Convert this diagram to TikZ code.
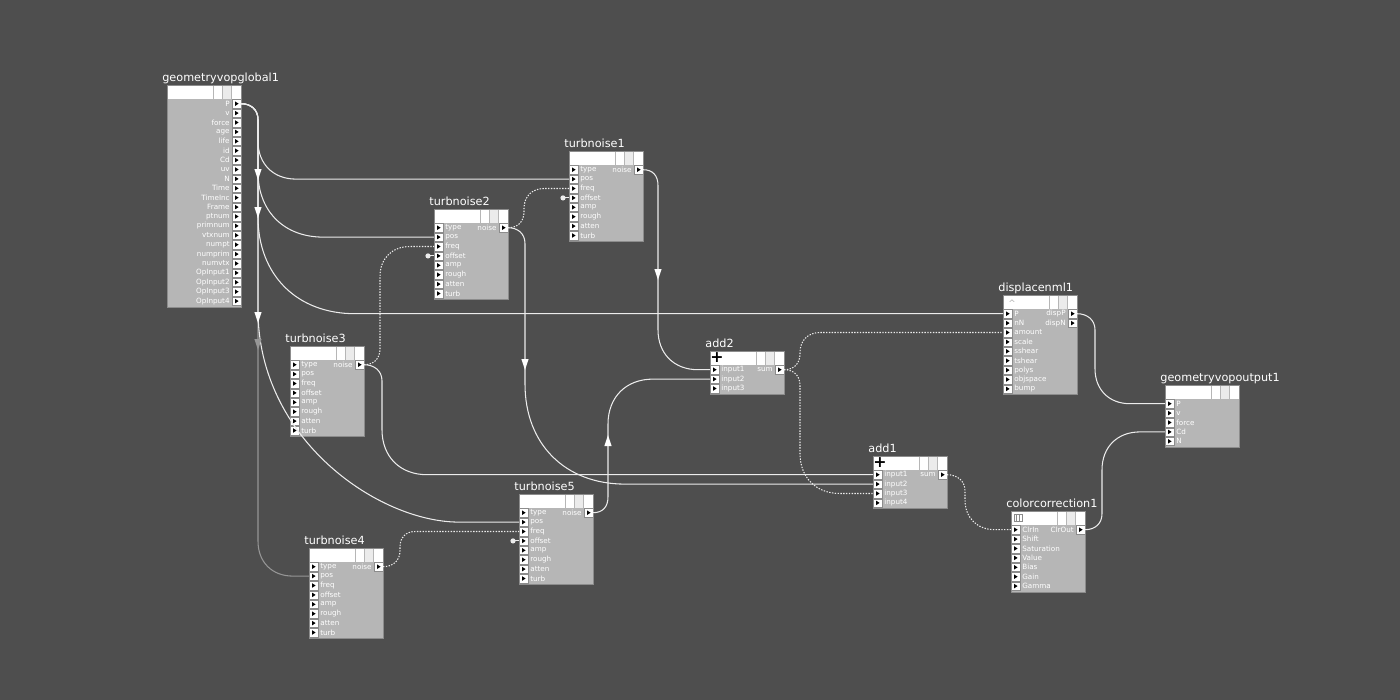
\documentclass[tikz,border=0pt]{standalone}
\usepackage{fontspec}
\setmainfont{DejaVu Sans}
\usetikzlibrary{calc}

\definecolor{vbg}{RGB}{78,78,78}
\definecolor{vbody}{RGB}{182,182,182}
\definecolor{vedge}{RGB}{140,140,140}
\definecolor{vwire}{RGB}{236,236,236}
\definecolor{vgray}{RGB}{150,150,150}

\tikzset{
  vtitle/.style={text=white, inner sep=0pt, anchor=base west, font=\fontsize{6.4}{7}\selectfont},
  vlabel/.style={text=white, inner sep=0pt, font=\fontsize{4.1}{4.5}\selectfont},
  vport/.style={fill=white, draw=vedge, line width=0.2pt},
  vcell/.style={draw=vbody, line width=0.3pt},
  wire/.style={draw=vwire, line width=0.6pt},
  dwire/.style={wire, dash pattern=on 0.8pt off 0.8pt},
  gwire/.style={wire, draw=vgray},
  warrow/.pic={\fill (-3.6,-6) -- (3.6,-6) -- (0,5) -- cycle;},
}

% #1 name, #2 left, #3 top, #4 rows, #5 title, #6 inputs, #7 outputs
\newcommand{\vopnode}[7]{%
  \fill[vbody] (#2,#3+14) rectangle (#2+74,{#3+15+#4*9.4});
  \fill[white] (#2,#3) rectangle (#2+74,#3+14);
  \fill[black!8] (#2+55,#3) rectangle (#2+64,#3+14);
  \draw[vcell] (#2+46,#3) -- (#2+46,#3+14) (#2+55,#3) -- (#2+55,#3+14)
    (#2+64,#3) -- (#2+64,#3+14);
  \draw[vedge, line width=0.3pt] (#2,#3) rectangle (#2+74,{#3+15+#4*9.4});
  \node[vtitle] (#1) at (#2-5,#3-4) {#5};
  \if\relax\detokenize{#6}\relax\else
  \foreach \lab [count=\i] in {#6} {
    \pgfmathsetmacro\yy{#3+14+(\i-0.5)*9.4}
    \coordinate (#1-i\i) at (#2,\yy);
    \draw[vport] (#2,\yy-4.2) rectangle (#2+9,\yy+4.2);
    \fill (#2+3,\yy-2.3) -- (#2+3,\yy+2.3) -- (#2+6.6,\yy) -- cycle;
    \node[vlabel, anchor=west] (#1-li\i) at (#2+11,\yy) {\lab};
  }\fi
  \if\relax\detokenize{#7}\relax\else
  \foreach \lab [count=\i] in {#7} {
    \pgfmathsetmacro\yy{#3+14+(\i-0.5)*9.4}
    \coordinate (#1-o\i) at (#2+74,\yy);
    \draw[vport] (#2+65,\yy-4.2) rectangle (#2+74,\yy+4.2);
    \fill (#2+68,\yy-2.3) -- (#2+68,\yy+2.3) -- (#2+71.6,\yy) -- cycle;
    \node[vlabel, anchor=east] (#1-lo\i) at (#2+63,\yy) {\lab};
  }\fi
}

% wires: #1 style, #2 from, #3 to, #4 trunk x, #5 bend
\newcommand{\dnwire}[5][wire]{%
  \coordinate (tk) at (#4,0);
  \draw[#1] (#2) .. controls +(10,0) and +(0,-10) .. ($(#2 -| tk)+(0,16)$)
    -- ($(tk |- #3)+(0,-#5)$) .. controls +(0,0.6*#5) and +(-0.6*#5,0) .. ($(tk |- #3)+(#5,0)$) -- (#3);}
\newcommand{\upwire}[5][wire]{%
  \coordinate (tk) at (#4,0);
  \draw[#1] (#2) .. controls +(10,0) and +(0,10) .. ($(#2 -| tk)+(0,-16)$)
    -- ($(tk |- #3)+(0,#5)$) .. controls +(0,-0.6*#5) and +(-0.6*#5,0) .. ($(tk |- #3)+(#5,0)$) -- (#3);}

\begin{document}
\begin{tikzpicture}[x=0.02cm, y=-0.02cm]
  \fill[vbg] (0,0) rectangle (1400,700);

  \vopnode{glob}{167}{85}{22}{geometryvopglobal1}{}{P,v,force,age,life,id,Cd,uv,N,Time,TimeInc,Frame,ptnum,primnum,vtxnum,numpt,numprim,numvtx,OpInput1,OpInput2,OpInput3,OpInput4}
  \vopnode{tn1}{569}{151}{8}{turbnoise1}{type,pos,freq,offset,amp,rough,atten,turb}{noise}
  \vopnode{tn2}{434}{209}{8}{turbnoise2}{type,pos,freq,offset,amp,rough,atten,turb}{noise}
  \vopnode{tn3}{290}{346}{8}{turbnoise3}{type,pos,freq,offset,amp,rough,atten,turb}{noise}
  \vopnode{tn4}{309}{548}{8}{turbnoise4}{type,pos,freq,offset,amp,rough,atten,turb}{noise}
  \vopnode{tn5}{519}{494}{8}{turbnoise5}{type,pos,freq,offset,amp,rough,atten,turb}{noise}
  \vopnode{add2}{710}{351}{3}{add2}{input1,input2,input3}{sum}
  \vopnode{add1}{873}{456}{4}{add1}{input1,input2,input3,input4}{sum}
  \vopnode{disp}{1003}{295}{9}{displacenml1}{P,nN,amount,scale,sshear,tshear,polys,objspace,bump}{dispP,dispN}
  \vopnode{cc}{1011}{511}{7}{colorcorrection1}{ClrIn,Shift,Saturation,Value,Bias,Gain,Gamma}{ClrOut}
  \vopnode{out}{1165}{385}{5}{geometryvopoutput1}{P,v,force,Cd,N}{}

  % header icons
  \node[inner sep=0pt, font=\bfseries\fontsize{9}{9}\selectfont] (add2-sym) at (717,358) {+};
  \node[inner sep=0pt, font=\bfseries\fontsize{9}{9}\selectfont] (add1-sym) at (880,463) {+};
  \node[inner sep=0pt, text=black!30, font=\fontsize{5}{5}\selectfont] (disp-sym) at (1012,303) {\textasciicircum};
  \draw[black!45, line width=0.3pt] (1014,514) rectangle (1022,521)
    (1016.5,514) -- (1016.5,521) (1019.5,514) -- (1019.5,521);

  % wires from P
  \coordinate (ptrunk) at (258,0);
  \dnwire[gwire]{glob-o1}{tn4-i2}{258}{35}
  \dnwire{glob-o1}{tn1-i2}{258}{38}
  \dnwire{glob-o1}{tn2-i2}{258}{65}
  \dnwire{glob-o1}{disp-i1}{258}{97}
  \draw[wire] (glob-o1) .. controls +(10,0) and +(0,-10) .. ($(glob-o1 -| ptrunk)+(0,16)$)
    -- ($(ptrunk)+(0,310)$) .. controls ($(ptrunk)+(0,440)$) and ($(tn5-i2)+(-140,0)$) .. ($(tn5-i2)+(-60,0)$) -- (tn5-i2);
  \pic[white] at (258,175) {warrow};
  \pic[white] at (258,213) {warrow};
  \pic[white] at (258,318) {warrow};
  \pic[vgray] at (258,345) {warrow};

  % noise wires
  \dnwire{tn1-o1}{add2-i1}{658}{40}
  \dnwire{tn2-o1}{add1-i2}{525}{100}
  \dnwire{tn3-o1}{add1-i1}{382}{45}
  \upwire{tn5-o1}{add2-i2}{608}{45}
  \pic[white] at (658,275) {warrow};
  \pic[white] at (525,365) {warrow};
  \pic[white, rotate=180] at (608,440) {warrow};

  % dotted wires
  \upwire[dwire]{tn2-o1}{tn1-i3}{524}{20}
  \upwire[dwire]{tn3-o1}{tn2-i3}{380}{30}
  \upwire[dwire]{tn4-o1}{tn5-i3}{400}{15}
  \upwire[dwire]{add2-o1}{disp-i3}{800}{20}
  \dnwire[dwire]{add2-o1}{add1-i3}{800}{40}
  \dnwire[dwire]{add1-o1}{cc-i1}{965}{30}

  % to output
  \dnwire{disp-o1}{out-i1}{1095}{35}
  \upwire{cc-o1}{out-i4}{1102}{38}

  % offset pins
  \foreach \n in {tn1,tn2,tn5} {
    \draw[wire] (\n-i4) -- ++(-6,0) coordinate (\n-pin);
    \fill[vwire] (\n-pin) circle (2.6);
  }
\end{tikzpicture}
\end{document}
